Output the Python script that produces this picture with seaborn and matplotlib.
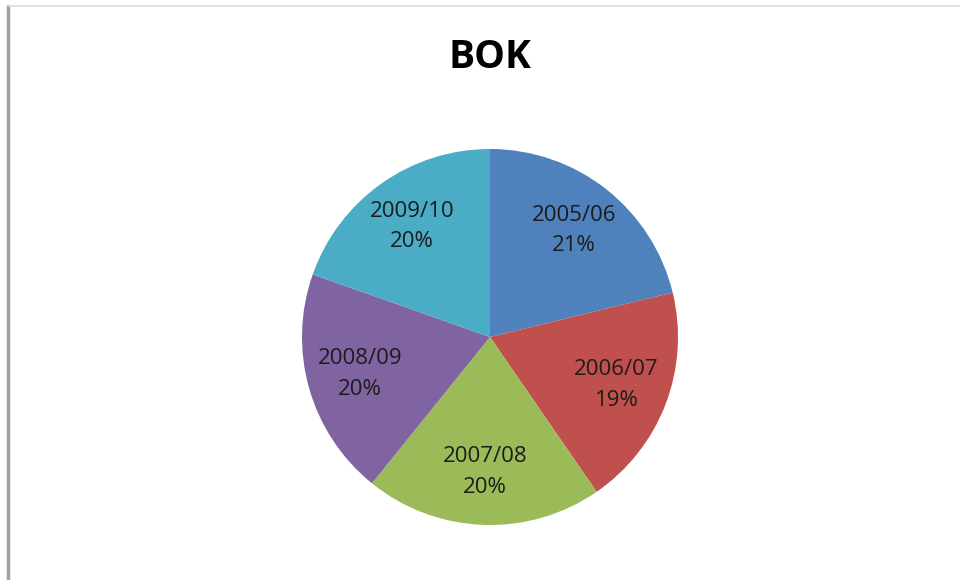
import matplotlib
matplotlib.use("Agg")
import matplotlib.pyplot as plt
import seaborn as sns
from matplotlib.lines import Line2D

# data
seasons = ["2005/06", "2006/07", "2007/08", "2008/09", "2009/10"]
shares = [21.2, 19.2, 20.4, 19.6, 19.6]
colors = ["#4F81BD", "#C0504D", "#9BBB59", "#8064A2", "#4BACC6"]

sns.set_theme(style="white")
plt.rcParams["font.family"] = ["Open Sans", "DejaVu Sans"]

fig = plt.figure(figsize=(9.6, 5.8), dpi=100)
fig.patch.set_facecolor("white")

# pie axes: centre ~ (490, 337) px, radius ~188 px
W, H = 960, 580
ax = fig.add_axes([302 / W, (H - 525) / H, 376 / W, 376 / H])

names = iter(seasons)


def fmt(pct):
    return f"{next(names)}\n{pct:.0f}%"


ax.pie(
    shares,
    colors=sns.color_palette(colors),
    startangle=90,
    counterclock=False,
    autopct=fmt,
    pctdistance=0.72,
    wedgeprops=dict(linewidth=0),
    textprops=dict(fontsize=16, color="#1c1c1c", linespacing=1.6),
)
ax.set_xlim(-1, 1)
ax.set_ylim(-1, 1)
ax.set_aspect("equal")

fig.text(490 / W, 1 - 57 / H, "BOK", ha="center", va="center",
         fontsize=28, fontweight="bold", color="#000000")

# frame lines like the screenshot
fig.add_artist(Line2D([8 / W, 8 / W], [0, 1 - 6 / H], transform=fig.transFigure,
                      color="#a0a0a0", linewidth=2.5))
fig.add_artist(Line2D([8 / W, 1], [1 - 6 / H, 1 - 6 / H], transform=fig.transFigure,
                      color="#dcdcdc", linewidth=1.2))

fig.savefig("out.png", dpi=100, facecolor="white")
